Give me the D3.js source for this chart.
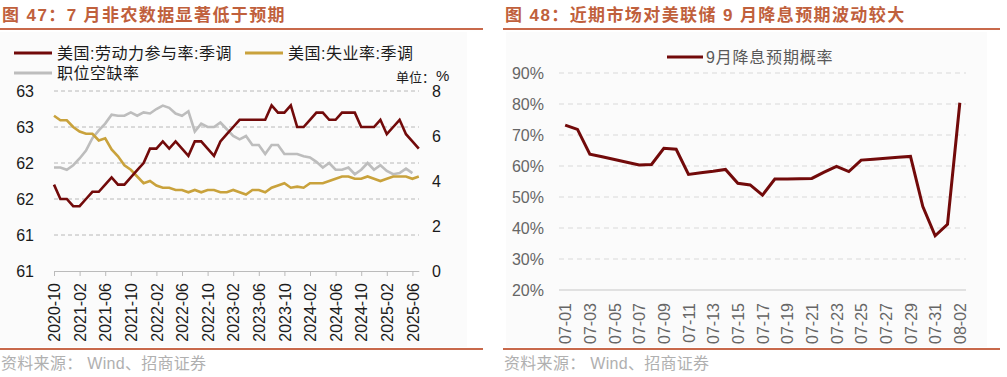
<!DOCTYPE html>
<html>
<head>
<meta charset="utf-8">
<script src="https://cdn.jsdelivr.net/npm/d3@7"></script>
<style>
	body { margin: 0; background: #fff; }
	text { font-family: 'Liberation Sans', Arial, 'Noto Sans CJK SC', sans-serif; }
</style>
</head>
<body>
<svg id="chart" width="1007" height="377"></svg>
<script>
// left chart: monthly data 2020-10 .. 2025-07
const months = [
	'2020-10','2020-11','2020-12',
	'2021-01','2021-02','2021-03','2021-04','2021-05','2021-06','2021-07','2021-08','2021-09','2021-10','2021-11','2021-12',
	'2022-01','2022-02','2022-03','2022-04','2022-05','2022-06','2022-07','2022-08','2022-09','2022-10','2022-11','2022-12',
	'2023-01','2023-02','2023-03','2023-04','2023-05','2023-06','2023-07','2023-08','2023-09','2023-10','2023-11','2023-12',
	'2024-01','2024-02','2024-03','2024-04','2024-05','2024-06','2024-07','2024-08','2024-09','2024-10','2024-11','2024-12',
	'2025-01','2025-02','2025-03','2025-04','2025-05','2025-06','2025-07'
];
const month_ticks = ['2020-10','2021-02','2021-06','2021-10','2022-02','2022-06','2022-10','2023-02',
	'2023-06','2023-10','2024-02','2024-06','2024-10','2025-02','2025-06'];
const participation = [
	61.7, 61.5, 61.5, 61.4, 61.4, 61.5, 61.6, 61.6, 61.7, 61.8,
	61.7, 61.7, 61.8, 61.9, 62.0, 62.2, 62.2, 62.3, 62.2, 62.3,
	62.2, 62.1, 62.3, 62.3, 62.2, 62.1, 62.3, 62.4, 62.5, 62.6,
	62.6, 62.6, 62.6, 62.6, 62.8, 62.7, 62.7, 62.8, 62.5, 62.5,
	62.6, 62.7, 62.7, 62.6, 62.6, 62.7, 62.7, 62.7, 62.5, 62.5,
	62.5, 62.6, 62.4, 62.5, 62.6, 62.4, 62.3, 62.2
];
const unemployment = [
	6.9, 6.7, 6.7, 6.4, 6.2, 6.1, 6.1, 5.8, 5.9, 5.4,
	5.1, 4.7, 4.5, 4.2, 3.9, 4.0, 3.8, 3.7, 3.7, 3.6,
	3.6, 3.5, 3.6, 3.5, 3.6, 3.6, 3.5, 3.5, 3.6, 3.5,
	3.4, 3.6, 3.6, 3.5, 3.7, 3.8, 3.9, 3.7, 3.75, 3.7,
	3.9, 3.9, 3.9, 4.0, 4.1, 4.2, 4.2, 4.1, 4.1, 4.2,
	4.1, 4.0, 4.1, 4.2, 4.2, 4.2, 4.1, 4.2
];
const openings = [
	4.6, 4.6, 4.5, 4.7, 5.0, 5.35, 5.9, 6.25, 6.55, 6.95,
	6.9, 6.9, 7.05, 6.9, 7.05, 7.0, 7.2, 7.35, 7.25, 7.0,
	6.9, 7.1, 6.2, 6.55, 6.4, 6.4, 6.6, 6.3, 6.0, 5.85,
	6.0, 5.6, 5.6, 5.2, 5.6, 5.6, 5.2, 5.2, 5.2, 5.1,
	5.05, 4.85, 4.6, 4.8, 4.5, 4.5, 4.6, 4.3, 4.5, 4.8,
	4.5, 4.7, 4.45, 4.3, 4.35, 4.55, 4.35
];
const left_ticks = [60.5, 61, 61.5, 62, 62.5, 63];
const right_ticks = [0, 2, 4, 6, 8];

// right chart: daily probability of a September cut
const days = [
	'07-01','07-02','07-03','07-04','07-05','07-06','07-07','07-08','07-09','07-10',
	'07-11','07-12','07-13','07-14','07-15','07-16','07-17','07-18','07-19','07-20',
	'07-21','07-22','07-23','07-24','07-25','07-26','07-27','07-28','07-29','07-30',
	'07-31','08-01','08-02'
];
const cut_prob = [
	73.2, 71.8, 63.8, 63.0, 62.1, 61.2, 60.3, 60.5, 65.7, 65.4,
	57.3, 57.8, 58.3, 58.9, 54.4, 53.9, 50.6, 55.8, 55.8, 55.9,
	56.0, 58.0, 59.9, 58.2, 61.9, 62.2, 62.5, 62.8, 63.1, 46.9,
	37.5, 41.2, 80.4
];
const pct_ticks = [20, 30, 40, 50, 60, 70, 80, 90];

const accent = '#c8694b';
const maroon = '#720a0a';
const gold = '#c9a23c';
const silver = '#bdbdbd';

var svg = d3.select('#chart');

// panel frame: title, rules, source
function make_panel(x0, x1, bg_x0, bg_x1, title) {
	svg.append('rect')
		.attr('x', bg_x0).attr('y', 32)
		.attr('width', bg_x1 - bg_x0).attr('height', 315)
		.attr('fill', '#fbfbfb')
	svg.append('text')
		.attr('x', x0 + 2).attr('y', 21)
		.style('font-size', '17px')
		.style('font-weight', 'bold')
		.style('letter-spacing', '1.4px')
		.attr('fill', '#c0603c')
		.text(title)
	svg.append('line')
		.attr('x1', x0).attr('x2', x1)
		.attr('y1', 29).attr('y2', 29)
		.attr('stroke', accent).attr('stroke-width', 2)
	svg.append('line')
		.attr('x1', x0).attr('x2', x1)
		.attr('y1', 349).attr('y2', 349)
		.attr('stroke', accent).attr('stroke-width', 2)
	svg.append('text')
		.attr('x', x0 + 1).attr('y', 369)
		.style('font-size', '16px')
		.style('letter-spacing', '0.3px')
		.attr('fill', '#b0b0b0')
		.text('资料来源： Wind、招商证券')
}
make_panel(0, 483, 0, 467, '图 47：7 月非农数据显著低于预期');
make_panel(503, 1000, 506, 987, '图 48：近期市场对美联储 9 月降息预期波动较大');

// ---------- left chart ----------
var x = d3.scalePoint().domain(months).range([54, 418.8]);
var y_left = d3.scaleLinear().domain([60.5, 63]).range([271, 91]);
var y_right = d3.scaleLinear().domain([0, 8]).range([271, 91]);

var left = svg.append('g');

left.selectAll('.grid')
	.data(left_ticks.slice(1))
	.enter().append('line')
	.attr('x1', 54).attr('x2', 419)
	.attr('y1', d => y_left(d)).attr('y2', d => y_left(d))
	.attr('stroke', '#b8b8b8')
	.attr('stroke-dasharray', '4,3')

var ax_left = left.append('g')
	.attr('transform', 'translate(36,0)')
	.call(d3.axisLeft(y_left).tickValues(left_ticks).tickFormat(d => d.toFixed(0)).tickSize(0).tickPadding(2))
ax_left.select('.domain').remove()
ax_left.selectAll('text').style('font-size', '16px').attr('fill', '#1a1a1a')

var ax_right = left.append('g')
	.attr('transform', 'translate(432,0)')
	.call(d3.axisRight(y_right).tickValues(right_ticks).tickSize(0).tickPadding(0))
ax_right.select('.domain').remove()
ax_right.selectAll('text').style('font-size', '16px').attr('fill', '#1a1a1a')

var ax_bottom = left.append('g')
	.attr('transform', 'translate(0,271)')
	.call(d3.axisBottom(x).tickValues(month_ticks).tickSize(5).tickSizeOuter(0))
ax_bottom.select('.domain').attr('stroke', '#bbb')
ax_bottom.selectAll('line').attr('stroke', '#bbb')
ax_bottom.selectAll('text')
	.attr('transform', 'rotate(-90)')
	.attr('x', -12).attr('y', 0).attr('dy', '0.35em')
	.style('text-anchor', 'end')
	.style('font-size', '16px')
	.attr('fill', '#1a1a1a')

function draw_series(values, scale, color) {
	left.append('path')
		.datum(values)
		.attr('fill', 'none')
		.attr('stroke', color)
		.attr('stroke-width', 2.6)
		.attr('stroke-linejoin', 'miter')
		.attr('d', d3.line().x((d, i) => x(months[i])).y(d => scale(d)))
}
draw_series(openings, y_right, silver);
draw_series(unemployment, y_right, gold);
draw_series(participation, y_left, maroon);

// legend
var legend_items = [
	{'name' : '美国:劳动力参与率:季调', 'color' : maroon, 'x' : 14, 'y' : 53},
	{'name' : '美国:失业率:季调', 'color' : gold, 'x' : 245, 'y' : 53},
	{'name' : '职位空缺率', 'color' : silver, 'x' : 14, 'y' : 73},
];
legend_items.forEach(function(item) {
	left.append('line')
		.attr('x1', item.x).attr('x2', item.x + 38)
		.attr('y1', item.y).attr('y2', item.y)
		.attr('stroke', item.color).attr('stroke-width', 3)
	left.append('text')
		.attr('x', item.x + 43).attr('y', item.y + 6)
		.style('font-size', '16px')
		.style('letter-spacing', '0.5px')
		.attr('fill', '#1a1a1a')
		.text(item.name)
})
left.append('text')
	.attr('x', 396).attr('y', 82)
	.style('font-size', '13px')
	.attr('fill', '#1a1a1a')
	.text('单位：')
left.append('text')
	.attr('x', 436).attr('y', 81)
	.style('font-size', '15px')
	.attr('fill', '#1a1a1a')
	.text('%')

// ---------- right chart ----------
var xd = d3.scalePoint().domain(days).range([559, 966]).padding(0.5);
var yp = d3.scaleLinear().domain([20, 90]).range([290, 73]);

var right = svg.append('g');

right.selectAll('.grid')
	.data(pct_ticks.slice(1))
	.enter().append('line')
	.attr('x1', 559).attr('x2', 966)
	.attr('y1', d => yp(d)).attr('y2', d => yp(d))
	.attr('stroke', '#d9d9d9')
	.attr('stroke-width', 1.2)
	.attr('stroke-dasharray', '5,4')
right.append('line')
	.attr('x1', 559).attr('x2', 966)
	.attr('y1', yp(20)).attr('y2', yp(20))
	.attr('stroke', '#d9d9d9').attr('stroke-width', 1.5)

var ax_pct = right.append('g')
	.attr('transform', 'translate(546,0)')
	.call(d3.axisLeft(yp).tickValues(pct_ticks).tickFormat(d => d + '%').tickSize(0).tickPadding(2))
ax_pct.select('.domain').remove()
ax_pct.selectAll('text').style('font-size', '16px').attr('fill', '#666')

var ax_days = right.append('g')
	.attr('transform', 'translate(0,290)')
	.call(d3.axisBottom(xd).tickValues(days.filter((d, i) => i % 2 == 0)).tickSize(0))
ax_days.select('.domain').remove()
ax_days.selectAll('text')
	.attr('transform', 'rotate(-90)')
	.attr('x', -13).attr('y', 0).attr('dy', '0.35em')
	.style('text-anchor', 'end')
	.style('font-size', '16px')
	.attr('fill', '#666')

right.append('path')
	.datum(cut_prob)
	.attr('fill', 'none')
	.attr('stroke', maroon)
	.attr('stroke-width', 3)
	.attr('d', d3.line().x((d, i) => xd(days[i])).y(d => yp(d)))

right.append('line')
	.attr('x1', 667).attr('x2', 703)
	.attr('y1', 57).attr('y2', 57)
	.attr('stroke', maroon).attr('stroke-width', 3)
right.append('text')
	.attr('x', 706).attr('y', 63)
	.style('font-size', '16px')
	.style('letter-spacing', '0.8px')
	.attr('fill', '#595959')
	.text('9月降息预期概率')
</script>
</body>
</html>
